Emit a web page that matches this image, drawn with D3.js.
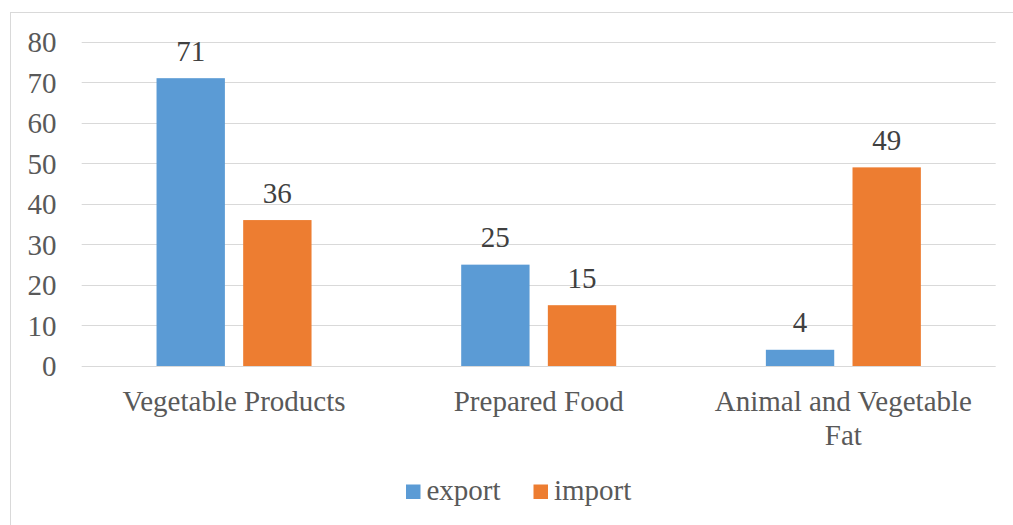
<!DOCTYPE html>
<html><head><meta charset="utf-8">
<script src="https://cdn.jsdelivr.net/npm/d3@7"></script>
<style>body{margin:0;background:#fff;}svg{display:block;}</style>
</head><body>
<svg id="chart" width="1013" height="525"></svg>
<script>
const categories = ["Vegetable Products", "Prepared Food", "Animal and Vegetable Fat"];
const seriesNames = ["export", "import"];
const exportValues = [71, 25, 4];
const importValues = [36, 15, 49];
const yTicks = [0, 10, 20, 30, 40, 50, 60, 70, 80];
const colors = ["#5B9BD5", "#ED7D31"];

(function () {
const data = categories.map((c, i) => ({cat: c, vals: [exportValues[i], importValues[i]]}));

const svg = d3.select("#chart");
const font = "Liberation Serif";
const fs = "29px";
const textColor = "#595959";

// chart border
svg.append("rect").attr("x", 10.5).attr("y", 12.5).attr("width", 1010).attr("height", 520)
  .attr("fill", "#fff").attr("stroke", "#D9D9D9").attr("stroke-width", 1);

const pLeft = 81.7, pRight = 995.7, pTop = 41.7, pBottom = 366;
const y = d3.scaleLinear().domain([0, 80]).range([pBottom, pTop]);
const x0 = d3.scaleBand().domain(categories).range([pLeft, pRight]).padding(0);
const groupW = 155;
const x1 = d3.scaleBand().domain(seriesNames).range([0, groupW]).paddingInner(0.211).paddingOuter(0);

// gridlines
svg.append("g").selectAll("line").data(yTicks).join("line")
  .attr("x1", pLeft).attr("x2", pRight)
  .attr("y1", d => Math.round(y(d)) + 0.5).attr("y2", d => Math.round(y(d)) + 0.5)
  .attr("stroke", "#D9D9D9").attr("stroke-width", 1);

// y axis labels
const yAxis = d3.axisLeft(y).tickValues(yTicks).tickSize(0).tickPadding(0);
const gy = svg.append("g").attr("transform", `translate(56.5,0)`).call(yAxis);
gy.select(".domain").remove();
gy.attr("font-family", null).attr("font-size", null);
gy.selectAll("text").style("font-family", font).style("font-size", fs).attr("fill", textColor)
  .attr("dy", "0.34em");

// bars
const groups = svg.append("g").selectAll("g").data(data).join("g")
  .attr("transform", d => `translate(${x0(d.cat) + x0.bandwidth() / 2 - groupW / 2},0)`);
groups.selectAll("rect").data(d => d.vals.map((v, i) => ({s: seriesNames[i], v, i}))).join("rect")
  .attr("x", d => x1(d.s)).attr("width", x1.bandwidth())
  .attr("y", d => y(d.v)).attr("height", d => y(0) - y(d.v))
  .attr("fill", d => colors[d.i]);
groups.selectAll("text").data(d => d.vals.map((v, i) => ({s: seriesNames[i], v, i}))).join("text")
  .attr("x", d => x1(d.s) + x1.bandwidth() / 2).attr("y", d => y(d.v) - 17.5)
  .attr("text-anchor", "middle").style("font-family", font).style("font-size", fs)
  .attr("fill", "#404040").text(d => d.v);

// category labels (wrap)
const catLines = {"Animal and Vegetable Fat": ["Animal and Vegetable", "Fat"]};
const gx = svg.append("g");
categories.forEach(c => {
  const lines = catLines[c] || [c];
  const t = gx.append("text").attr("text-anchor", "middle").style("font-family", font)
    .style("font-size", fs).attr("fill", textColor);
  lines.forEach((l, i) => {
    t.append("tspan").attr("x", x0(c) + x0.bandwidth() / 2).attr("y", 410.5 + i * 34).text(l);
  });
});

// legend
const legend = svg.append("g");
const legendItems = [{name: "export", x: 406}, {name: "import", x: 533.5}];
legendItems.forEach((it, i) => {
  legend.append("rect").attr("x", it.x).attr("y", 484.5).attr("width", 14.5).attr("height", 14.5).attr("fill", colors[i]);
  legend.append("text").attr("x", it.x + 20.5).attr("y", 499.5).style("font-family", font)
    .style("font-size", fs).attr("fill", textColor).text(it.name);
});
})();
</script>
</body></html>
